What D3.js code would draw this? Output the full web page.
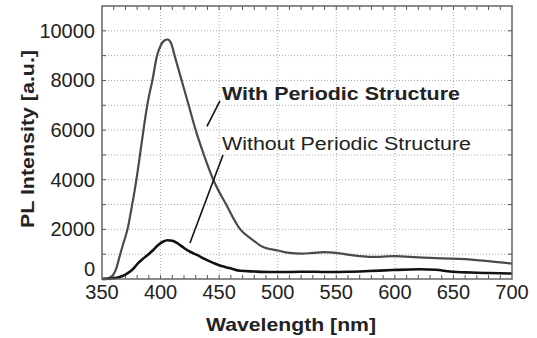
<!DOCTYPE html>
<html><head><meta charset="utf-8">
<script src="https://cdn.jsdelivr.net/npm/d3@7"></script>
<style>body{margin:0;background:#fff}svg{display:block}</style>
</head><body>
<svg id="c" width="537" height="338"></svg>
<script>
// Data
const withWl  = [350,355,358,360,362,365,368,370,372,375,378,380,383,386,389,393,397,400,403,406,409,412,418,424,430,437,445,456,468,478,487,500,510,520,530,540,550,560,570,580,600,620,640,660,680,700];
const withVal = [20,30,100,200,400,900,1400,1700,2050,2800,3600,4200,5200,6200,7100,8000,9000,9400,9600,9650,9500,9000,8000,7000,6000,5000,4000,3000,2000,1600,1300,1150,1050,1020,1050,1080,1050,980,920,890,920,870,830,800,720,620];
const woWl  = [350,355,360,365,370,374,378,381,385,389,394,398,402,406,410,415,420,425,431,438,445,452,459,468,480,493,505,519,532,545,560,578,598,621,635,647,665,681,700];
const woVal = [0,10,30,80,180,300,480,650,820,970,1180,1370,1500,1560,1540,1420,1250,1100,970,800,650,520,440,330,300,280,280,290,290,280,290,320,360,390,370,300,260,240,220];
const xTicks = [350,400,450,500,550,600,650,700];
const yTicks = [0,2000,4000,6000,8000,10000];
const labels = [
  {text:"With Periodic Structure", wl:452.4, v:7200, bold:true, len:238},
  {text:"Without Periodic Structure", wl:452.4, v:5200, bold:false, len:249}
];
const pointers = [
  {x1:450.7, y1:7180, x2:439.6, y2:6150},
  {x1:453.3, y1:5000, x2:425.1, y2:1450}
];

const svg = d3.select("#c");
const L=102, R=512, T=6, B=279;
const x = d3.scaleLinear().domain([350,700]).range([L,R]);
const y = d3.scaleLinear().domain([0,11000]).range([B,T]);

// grid
const g = svg.append("g");
g.selectAll(".gx").data(d3.range(400,700,50)).join("line")
  .attr("x1",d=>x(d)).attr("x2",d=>x(d)).attr("y1",T).attr("y2",B)
  .attr("stroke","#aaa").attr("stroke-width",1).attr("stroke-dasharray","1,2");
g.selectAll(".gy").data(d3.range(1000,11000,1000)).join("line")
  .attr("y1",d=>y(d)).attr("y2",d=>y(d)).attr("x1",L).attr("x2",R)
  .attr("stroke","#aaa").attr("stroke-width",1).attr("stroke-dasharray","1,2");

// minor ticks
const mt = d3.range(360,700,10);
g.selectAll(".tb").data(mt).join("line").attr("x1",d=>x(d)).attr("x2",d=>x(d)).attr("y1",B).attr("y2",B-4).attr("stroke","#555");
g.selectAll(".tt").data(mt).join("line").attr("x1",d=>x(d)).attr("x2",d=>x(d)).attr("y1",T).attr("y2",T+4).attr("stroke","#555");
const yt = d3.range(1000,11000,1000);
g.selectAll(".tl").data(yt).join("line").attr("y1",d=>y(d)).attr("y2",d=>y(d)).attr("x1",L).attr("x2",L+4).attr("stroke","#555");
g.selectAll(".tr").data(yt).join("line").attr("y1",d=>y(d)).attr("y2",d=>y(d)).attr("x1",R).attr("x2",R-4).attr("stroke","#555");

// curves
const line = d3.line().x(d=>x(d[0])).y(d=>y(d[1])).curve(d3.curveMonotoneX);
svg.append("path").datum(withWl.map((w,i)=>[w,withVal[i]]))
  .attr("d",line).attr("fill","none").attr("stroke","#4a4a4a").attr("stroke-width",2.2);
svg.append("path").datum(woWl.map((w,i)=>[w,woVal[i]]))
  .attr("d",line).attr("fill","none").attr("stroke","#111").attr("stroke-width",2.6);

// frame
svg.append("rect").attr("x",L).attr("y",T).attr("width",R-L).attr("height",B-T)
  .attr("fill","none").attr("stroke","#666").attr("stroke-width",1.5);

// tick labels
svg.selectAll(".xl").data(xTicks).join("text")
  .attr("x",d=>x(d)).attr("y",B+20).attr("text-anchor","middle")
  .attr("font-family","Liberation Sans, Arial, sans-serif").attr("font-size",20).attr("fill","#222").text(d=>d);
svg.selectAll(".yl").data(yTicks).join("text")
  .attr("x",L-7).attr("y",d=>y(d)+(d===0?-3:7)).attr("text-anchor","end")
  .attr("font-family","Liberation Sans, Arial, sans-serif").attr("font-size",20).attr("fill","#222").text(d=>d);

// axis titles
svg.append("text").attr("x",291).attr("y",331).attr("text-anchor","middle")
  .attr("font-family","Liberation Sans, Arial, sans-serif").attr("font-weight","bold").attr("font-size",19)
  .attr("textLength",170).attr("lengthAdjust","spacingAndGlyphs").attr("fill","#222").text("Wavelength [nm]");
svg.append("text").attr("transform","translate(34,139) rotate(-90)").attr("text-anchor","middle")
  .attr("font-family","Liberation Sans, Arial, sans-serif").attr("font-weight","bold").attr("font-size",19)
  .attr("textLength",178).attr("lengthAdjust","spacingAndGlyphs").attr("fill","#222").text("PL Intensity [a.u.]");

// annotations
svg.selectAll(".lab").data(labels).join("text")
  .attr("x",d=>x(d.wl)).attr("y",d=>y(d.v))
  .attr("font-family","Liberation Sans, Arial, sans-serif").attr("font-size",18)
  .attr("font-weight",d=>d.bold?"bold":"normal")
  .attr("textLength",d=>d.len).attr("lengthAdjust","spacingAndGlyphs")
  .attr("fill","#222").text(d=>d.text);
svg.selectAll(".ptr").data(pointers).join("line")
  .attr("x1",d=>x(d.x1)).attr("y1",d=>y(d.y1)).attr("x2",d=>x(d.x2)).attr("y2",d=>y(d.y2))
  .attr("stroke","#111").attr("stroke-width",1.6);
</script>
</body></html>
